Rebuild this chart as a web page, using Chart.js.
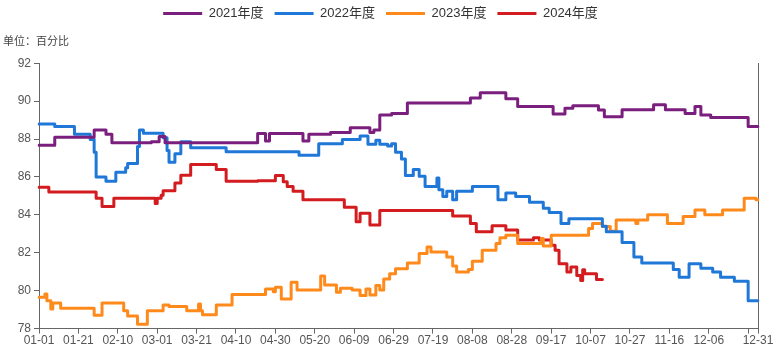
<!DOCTYPE html>
<html>
<head>
<meta charset="utf-8">
<script src="https://cdn.jsdelivr.net/npm/chart.js@4/dist/chart.umd.min.js"></script>
<style>
  html, body { margin: 0; padding: 0; background: #fff; }
</style>
</head>
<body>
<canvas id="graphique" width="779" height="351"></canvas>
<script>
// Séries (jour de début du palier -> valeur)
const seriesNames = ["2021年度", "2022年度", "2023年度", "2024年度"];
const seriesColors = ["#7b1f7e", "#1f78d7", "#ff8a1c", "#d31c1f"];

const days2021 = [0, 8, 28, 34, 37, 57, 61, 64, 111, 115, 117, 134, 137, 148, 158, 168, 170, 173, 179, 187, 219, 224, 237, 243, 261, 267, 271, 284, 287, 296, 312, 318, 328, 333, 336, 341, 360, 365];
const vals2021 = [87.67, 88.1, 88.48, 88.25, 87.8, 87.86, 88.13, 87.8, 88.29, 87.9, 88.29, 87.9, 88.25, 88.34, 88.6, 88.34, 88.47, 89.27, 89.35, 89.9, 90.17, 90.44, 90.12, 89.71, 89.32, 89.62, 89.76, 89.53, 89.18, 89.55, 89.81, 89.55, 89.35, 89.72, 89.27, 89.14, 88.66, 88.66];

const days2022 = [0, 8, 18, 26, 28, 29, 34, 39, 44, 45, 50, 51, 53, 63, 65, 66, 69, 72, 77, 95, 132, 142, 154, 163, 167, 171, 173, 177, 179, 181, 184, 186, 190, 193, 196, 202, 203, 205, 207, 210, 212, 220, 233, 237, 242, 249, 256, 259, 265, 269, 286, 288, 296, 302, 306, 322, 325, 330, 336, 342, 346, 353, 360, 365];
const vals2022 = [88.79, 88.66, 88.25, 87.98, 87.3, 86.0, 85.77, 86.25, 86.48, 86.71, 87.6, 88.48, 88.3, 88.07, 87.4, 86.78, 87.22, 87.86, 87.54, 87.33, 87.15, 87.75, 87.98, 88.16, 87.72, 87.93, 87.72, 87.63, 87.75, 87.3, 86.95, 86.07, 86.39, 86.04, 85.5, 85.95, 85.33, 84.97, 85.24, 84.8, 85.24, 85.5, 84.8, 85.15, 84.97, 84.67, 84.35, 84.12, 83.55, 83.79, 83.4, 83.11, 82.54, 81.78, 81.46, 81.12, 80.71, 81.42, 81.19, 80.98, 80.71, 80.5, 79.47, 79.47];

const days2023 = [0, 3, 4, 6, 7, 11, 28, 32, 43, 45, 50, 55, 63, 66, 75, 81, 82, 83, 90, 98, 115, 119, 120, 123, 128, 131, 143, 145, 151, 153, 159, 163, 166, 168, 171, 173, 175, 178, 181, 187, 193, 197, 199, 207, 210, 212, 218, 220, 225, 232, 234, 237, 243, 255, 256, 260, 279, 281, 286, 290, 293, 303, 304, 309, 319, 327, 333, 338, 347, 358, 364, 365];
const vals2023 = [79.65, 79.83, 79.47, 79.03, 79.35, 79.08, 78.71, 79.35, 78.94, 78.67, 78.23, 78.94, 79.24, 79.17, 78.94, 79.3, 78.94, 78.73, 79.24, 79.8, 80.09, 79.95, 80.18, 79.56, 80.45, 80.04, 80.77, 80.3, 79.92, 80.13, 80.04, 79.74, 80.09, 79.77, 80.27, 80.04, 80.62, 80.89, 81.16, 81.46, 81.96, 82.31, 82.04, 81.78, 81.3, 80.98, 81.12, 81.55, 82.13, 82.49, 82.79, 82.93, 82.49, 82.75, 82.36, 82.93, 83.28, 83.55, 83.38, 83.14, 83.73, 83.55, 83.73, 84.0, 83.55, 83.91, 84.26, 84.0, 84.26, 84.88, 84.8, 84.8];

const days2024 = [0, 5, 29, 32, 38, 59, 60, 62, 63, 69, 72, 77, 90, 95, 111, 120, 124, 126, 129, 134, 155, 161, 163, 168, 173, 210, 219, 222, 230, 237, 243, 251, 254, 260, 262, 264, 268, 270, 273, 275, 276, 277, 283, 286];
const vals2024 = [85.45, 85.2, 84.88, 84.44, 84.88, 84.6, 84.88, 85.03, 85.27, 85.68, 86.09, 86.66, 86.39, 85.77, 85.8, 86.07, 85.74, 85.5, 85.24, 84.8, 84.4, 83.64, 84.09, 83.46, 84.23, 83.94, 83.55, 83.11, 83.43, 83.2, 82.67, 82.79, 82.67, 82.4, 82.13, 81.42, 80.98, 81.25, 80.8, 80.54, 81.1, 80.89, 80.59, 80.59];

const yTicks = [78, 80, 82, 84, 86, 88, 90, 92];

// Libellés jour par jour (MM-JJ), une année complète
const dayLabels = [];
for (let d = new Date(2024, 0, 1); d.getFullYear() === 2024; d.setDate(d.getDate() + 1)) {
  dayLabels.push(String(d.getMonth() + 1).padStart(2, "0") + "-" + String(d.getDate()).padStart(2, "0"));
}
const lastIndex = dayLabels.length - 1;

function showTick(i) {
  return i % 20 === 0 || i === lastIndex;
}
function showLabel(i) {
  return (i % 20 === 0 && lastIndex - i > 10) || i === lastIndex;
}

function toPoints(days, vals) {
  return days.map((d, i) => ({ x: dayLabels[d], y: vals[i] }));
}

const allDays = [days2021, days2022, days2023, days2024];
const allVals = [vals2021, vals2022, vals2023, vals2024];

const datasets = seriesNames.map((name, k) => ({
  label: name,
  data: toPoints(allDays[k], allVals[k]),
  borderColor: seriesColors[k],
  backgroundColor: seriesColors[k],
  borderWidth: 3,
  pointRadius: 0,
  stepped: true,
  fill: false,
  borderCapStyle: "round",
  borderJoinStyle: "round",
}));

const fontFamily = "'Liberation Sans', 'Noto Sans CJK SC', sans-serif";

const config = {
  type: "line",
  data: { labels: dayLabels, datasets: datasets },
  options: {
    responsive: false,
    animation: false,
    layout: { padding: { top: -4, right: 21, bottom: 3, left: 3 } },
    plugins: {
      tooltip: { enabled: false },
      legend: {
        position: "top",
        align: "center",
        weight: 3000,
        labels: {
          usePointStyle: true,
          pointStyle: "line",
          pointStyleWidth: 39,
          boxHeight: 13,
          padding: 11,
          color: "#333",
          font: { family: fontFamily, size: 13 },
        },
      },
      title: {
        display: true,
        text: "单位：百分比",
        align: "start",
        color: "#444",
        font: { family: "'Noto Sans CJK SC', sans-serif", size: 11, weight: "normal" },
        padding: { top: 4, bottom: 16 },
      },
    },
    scales: {
      x: {
        type: "category",
        grid: {
          display: true,
          drawOnChartArea: false,
          drawTicks: true,
          tickLength: 5,
          tickColor: (ctx) => (showTick(ctx.index) ? "#666" : "rgba(0,0,0,0)"),
        },
        border: { display: true, color: "#666" },
        ticks: {
          autoSkip: false,
          maxRotation: 0,
          minRotation: 0,
          padding: 0,
          color: "#555",
          font: { family: fontFamily, size: 12 },
          callback: (value, i) => (showLabel(i) ? dayLabels[i] : ""),
        },
      },
      y: {
        min: yTicks[0],
        max: yTicks[yTicks.length - 1],
        afterBuildTicks: (scale) => {
          scale.ticks = yTicks.map((v) => ({ value: v }));
        },
        afterFit: (scale) => {
          scale.width = 36;
        },
        grid: { drawOnChartArea: false, tickLength: 5, tickColor: "#666" },
        border: { display: true, color: "#666" },
        ticks: { padding: 3, color: "#555", font: { family: fontFamily, size: 12 } },
      },
      y1: {
        position: "right",
        grid: { drawOnChartArea: false, drawTicks: false },
        border: { display: true, color: "#666" },
        ticks: { display: false },
        afterFit: (scale) => {
          scale.width = 0;
        },
      },
    },
  },
};

new Chart(document.querySelector("#graphique"), config);
</script>
</body>
</html>
